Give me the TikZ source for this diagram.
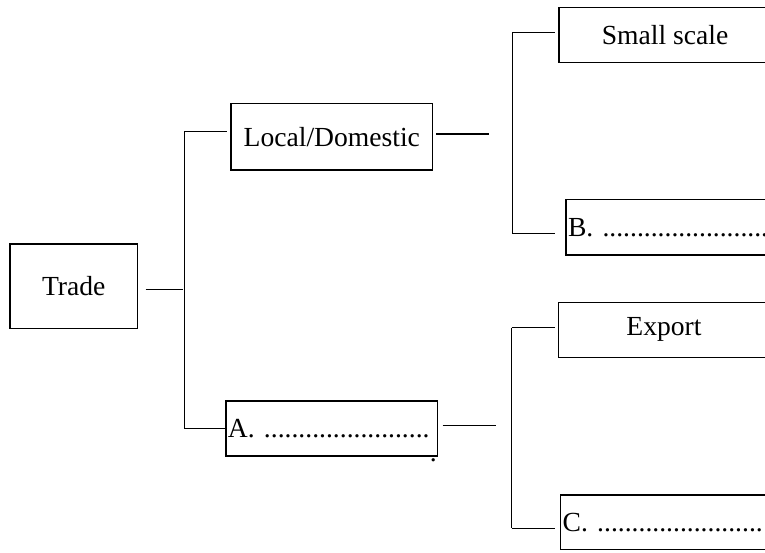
\documentclass[tikz,border=0pt]{standalone}
\usepackage{fontspec}
\setmainfont{Liberation Serif}
\newcommand{\trfont}{\fontsize{27.6}{30}\selectfont}
\newcommand{\dotrow}{........................}
\tikzset{
  box/.style={draw, line width=1.5pt, rectangle, inner sep=0pt, font=\trfont},
  leftbox/.style={box, align=left, inner xsep=2pt},
  conn/.style={line width=1.5pt}
}
\begin{document}
\begin{tikzpicture}[x=1pt,y=-1pt]
\useasboundingbox (0,0) rectangle (765,552);
\clip (0,0) rectangle (765,552);
% boxes
\node[box, minimum width=127.3pt, minimum height=84.3pt] (trade) at (73.7,286.2) {Trade};
\node[box, minimum width=201.7pt, minimum height=66.7pt] (local) at (331.8,136.7) {Local/Domestic};
\node[leftbox, minimum height=55pt, text width=207.7pt] (a) at (331.8,428.5) {A. \dotrow};
\node[font=\trfont, inner sep=0pt, anchor=base] (stray) at (433.3,461.5) {.};
\node[box, minimum width=212pt, minimum height=55pt] (small) at (665,34.8) {Small scale};
\node[leftbox, minimum height=55.7pt, text width=208pt] (b) at (672,227.2) {B. \dotrow};
\node[box, minimum width=211.4pt, minimum height=55pt] (export) at (664,329.8) {Export};
\node[leftbox, minimum height=54.3pt, text width=208pt] (c) at (666.7,522.2) {C. \dotrow};
% junction coordinates
\coordinate (t1) at (145.7,289.3);
\coordinate (t2) at (182.7,289.3);
\coordinate (v1top) at (184.3,131.7);
\coordinate (v1bot) at (184.3,428.3);
\coordinate (l1) at (436,134);
\coordinate (l2) at (489,134);
\coordinate (v2top) at (512.3,32.3);
\coordinate (v2bot) at (512.3,233.3);
\coordinate (a1) at (442.7,425.3);
\coordinate (a2) at (495.7,425.3);
\coordinate (v3top) at (511.7,327.7);
\coordinate (v3bot) at (511.7,528.3);
% connectors
\draw[conn] (t1) -- (t2);
\draw[conn] (v1top) -- (v1bot);
\draw[conn] (v1top) -- ([xshift=-3.3pt]local.west |- v1top);
\draw[conn] (v1bot) -- (a.west |- v1bot);
\draw[conn] (l1) -- (l2);
\draw[conn] (v2top) -- (v2bot);
\draw[conn] (v2top) -- ([xshift=-3pt]small.west |- v2top);
\draw[conn] (v2bot) -- ([xshift=-10pt]b.west |- v2bot);
\draw[conn] (a1) -- (a2);
\draw[conn] (v3top) -- (v3bot);
\draw[conn] (v3top) -- ([xshift=-2.3pt]export.west |- v3top);
\draw[conn] (v3bot) -- ([xshift=-4.7pt]c.west |- v3bot);
\end{tikzpicture}
\end{document}
